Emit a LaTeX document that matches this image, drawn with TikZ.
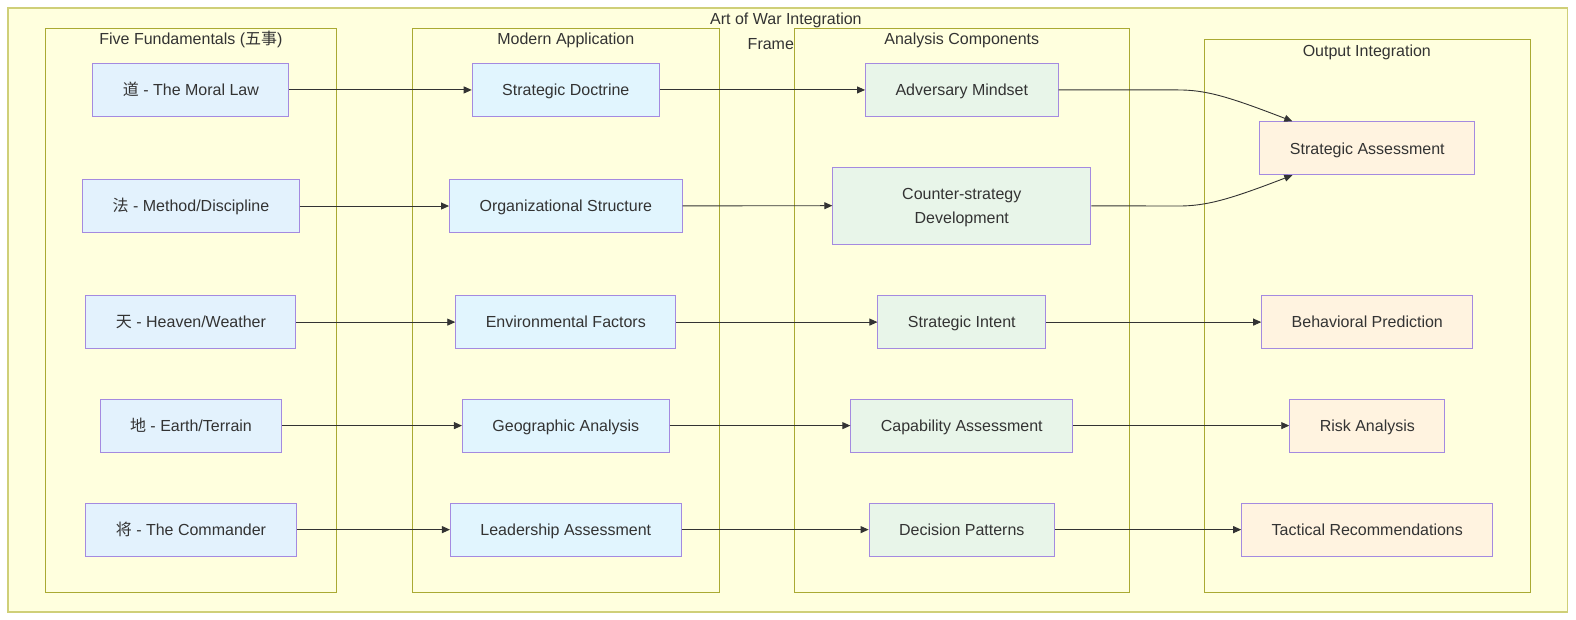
\documentclass[tikz,border=0pt]{standalone}
\usepackage{fontspec}
\setmainfont{Liberation Sans}
\newfontfamily\cjk{Noto Sans CJK SC}
\usetikzlibrary{arrows.meta}
\definecolor{clusterfill}{HTML}{FFFFDE}
\definecolor{clusterline}{HTML}{AAAA33}
\definecolor{frameline}{HTML}{CFCF78}
\definecolor{nodeline}{HTML}{A48AE0}
\definecolor{ink}{HTML}{333333}
\definecolor{fundfill}{HTML}{E3F2FD}
\definecolor{modfill}{HTML}{E1F5FE}
\definecolor{anafill}{HTML}{E8F5E9}
\definecolor{outfill}{HTML}{FFF3E0}
\tikzstyle{frame}=[draw=frameline, fill=clusterfill, line width=1.3pt]
\tikzstyle{cluster}=[draw=clusterline, fill=clusterfill, line width=0.8pt]
\tikzstyle{caption}=[text=ink, font=\fontsize{16}{19}\selectfont, inner sep=0pt, text height=13.6pt, text depth=2pt]
\tikzstyle{box}=[draw=nodeline, line width=1pt, text=ink, font=\fontsize{16}{24}\selectfont, minimum height=53pt, inner xsep=30pt, inner ysep=0pt]
\tikzstyle{single}=[box, text height=13.6pt, text depth=2pt]
\tikzstyle{link}=[draw=ink, line width=0.9pt, -{Triangle[length=8pt,width=7pt]}]

\begin{document}
\begin{tikzpicture}[x=1.005pt, y=-1.005pt]
    \useasboundingbox (0pt,0pt) rectangle (1576pt,-620pt);
    \draw[frame] (8,8) rectangle (1560,609);

    % subgraphs
    \draw[cluster] (45,28) rectangle (335,589);
    \draw[cluster] (410,28) rectangle (716,589);
    \draw[cluster] (790,28) rectangle (1124,589);
    \draw[cluster] (1198,39) rectangle (1523,589);

    \begin{scope}[every node/.style={caption}]
        \node (title) at (782,19) {Art of War Integration};
        \node (titlecont) at (767,43) {Frame};
        \node (fundlabel) at (190,39) {Five Fundamentals ({\cjk 五事})};
        \node (modlabel) at (563,39) {Modern Application};
        \node (analabel) at (957,39) {Analysis Components};
        \node (outlabel) at (1360,50) {Output Integration};
    \end{scope}

    \begin{scope}[every node/.style={single, fill=fundfill}]
        \node (moral) at (190,89.5) {{\cjk 道} - The Moral Law};
        \node (method) at (190,205) {{\cjk 法} - Method/Discipline};
        \node (heaven) at (190,320.5) {{\cjk 天} - Heaven/Weather};
        \node (earth) at (190,423.5) {{\cjk 地} - Earth/Terrain};
        \node (commander) at (190,527) {{\cjk 将} - The Commander};
    \end{scope}

    \begin{scope}[every node/.style={single, fill=modfill}]
        \node (doctrine) at (563,89.5) {Strategic Doctrine};
        \node (structure) at (563,205) {Organizational Structure};
        \node (environ) at (563,320.5) {Environmental Factors};
        \node (geo) at (563,423.5) {Geographic Analysis};
        \node (leader) at (563,527) {Leadership Assessment};
    \end{scope}

    \node[box, fill=anafill, minimum height=77pt, minimum width=258pt, align=center] (counter) at (957,204.5) {\rule{0pt}{16pt}Counter-strategy\\Development};
    \begin{scope}[every node/.style={single, fill=anafill}]
        \node (mindset) at (957,89.5) {Adversary Mindset};
        \node (intent) at (957,320.5) {Strategic Intent};
        \node (capability) at (957,423.5) {Capability Assessment};
        \node (decision) at (957,527) {Decision Patterns};
    \end{scope}

    \begin{scope}[every node/.style={single, fill=outfill}]
        \node (assess) at (1360.5,147.5) {Strategic Assessment};
        \node (predict) at (1360.5,320.5) {Behavioral Prediction};
        \node (risk) at (1360.5,423.5) {Risk Analysis};
        \node (tactics) at (1360.5,527) {Tactical Recommendations};
    \end{scope}

    \begin{scope}[every path/.style={link}]
        \path (moral) -- (doctrine);
        \path (method) -- (structure);
        \path (heaven) -- (environ);
        \path (earth) -- (geo);
        \path (commander) -- (leader);

        \path (doctrine) -- (mindset);
        \path (structure) -- (counter);
        \path (environ) -- (intent);
        \path (geo) -- (capability);
        \path (leader) -- (decision);

        \path (mindset) -- (1172,89.5) .. controls (1200,89.5) and (1222,96) .. ([xshift=-75pt]assess.north);
        \path (counter) -- (1172,205) .. controls (1200,205) and (1222,199) .. ([xshift=-75pt]assess.south);
        \path (intent) -- (predict);
        \path (capability) -- (risk);
        \path (decision) -- (tactics);
    \end{scope}
\end{tikzpicture}
\end{document}
